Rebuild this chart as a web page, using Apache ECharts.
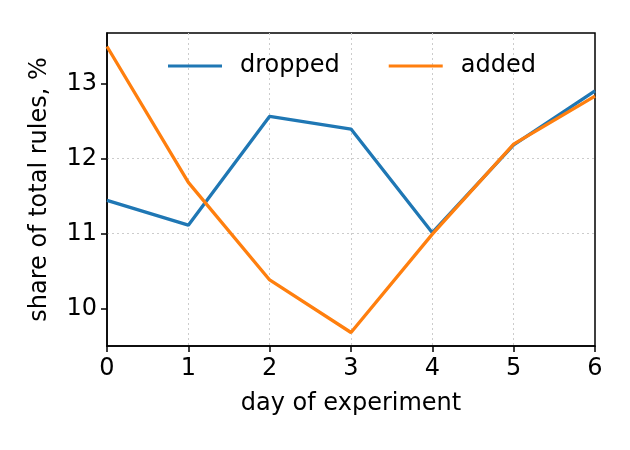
<!DOCTYPE html>
<html>
<head>
<meta charset="utf-8">
<script src="https://cdn.jsdelivr.net/npm/echarts@6/dist/echarts.min.js"></script>
<style>
  html, body { margin: 0; padding: 0; background: #fff; }
  #chart { width: 630px; height: 450px; }
</style>
</head>
<body>
<div id="chart"></div>
<script>
var days = [0, 1, 2, 3, 4, 5, 6];
var dropped = [11.44, 11.11, 12.56, 12.39, 11.01, 12.18, 12.9];
var added = [13.49, 11.68, 10.38, 9.68, 10.99, 12.19, 12.83];
var yTicks = [10, 11, 12, 13];

var chartDom = document.getElementById("chart");
var chart = echarts.init(chartDom);
var font = "DejaVu Sans";
var fs = 24;

function pairs(ys) {
  var out = [];
  for (var i = 0; i < days.length; i++) {
    out.push([days[i], ys[i]]);
  }
  return out;
}

var gridLine = { show: true, showMinLine: false, showMaxLine: false,
  lineStyle: { color: "#cccccc", type: [2, 3], width: 1 } };

var option = {
  animation: false,
  textStyle: { fontFamily: font },
  grid: {
    left: 107,
    right: 35,
    top: 33,
    bottom: 104,
    show: true,
    borderColor: "#000",
    borderWidth: 1.5,
  },
  legend: {
    left: 163,
    top: 49,
    icon: "rect",
    itemWidth: 54,
    itemHeight: 3,
    itemGap: 49,
    textStyle: {
      fontFamily: font,
      fontSize: fs,
      color: "#000",
      padding: [0, 0, 0, 13],
    },
    data: ["dropped", "added"],
  },
  xAxis: {
    type: "value",
    min: 0,
    max: 6,
    interval: 1,
    name: "day of experiment",
    nameLocation: "middle",
    nameGap: 46,
    nameTextStyle: { fontFamily: font, fontSize: fs, color: "#000" },
    axisLine: { show: true, lineStyle: { color: "#000", width: 1.5 } },
    axisTick: { show: true, inside: false, length: 6, lineStyle: { color: "#000", width: 1.5 } },
    axisLabel: { fontFamily: font, fontSize: fs, color: "#000", margin: 11 },
    splitLine: gridLine,
  },
  yAxis: {
    type: "value",
    min: 9.5,
    max: 13.67,
    name: "share of total rules, %",
    nameLocation: "middle",
    nameGap: 55,
    nameTextStyle: { fontFamily: font, fontSize: fs, color: "#000" },
    axisLine: { show: true, lineStyle: { color: "#000", width: 1.5 } },
    axisTick: {
      show: true,
      length: 6,
      customValues: yTicks,
      lineStyle: { color: "#000", width: 1.5 },
    },
    axisLabel: {
      fontFamily: font,
      fontSize: fs,
      color: "#000",
      margin: 10,
      customValues: yTicks,
    },
    splitLine: gridLine,
  },
  series: [
    {
      name: "dropped",
      type: "line",
      data: pairs(dropped),
      showSymbol: false,
      symbol: "none",
      lineStyle: { color: "#1f77b4", width: 3.3 },
      itemStyle: { color: "#1f77b4" },
    },
    {
      name: "added",
      type: "line",
      data: pairs(added),
      showSymbol: false,
      symbol: "none",
      lineStyle: { color: "#ff7f0e", width: 3.3 },
      itemStyle: { color: "#ff7f0e" },
    },
  ],
};

chart.setOption(option);
</script>
</body>
</html>
